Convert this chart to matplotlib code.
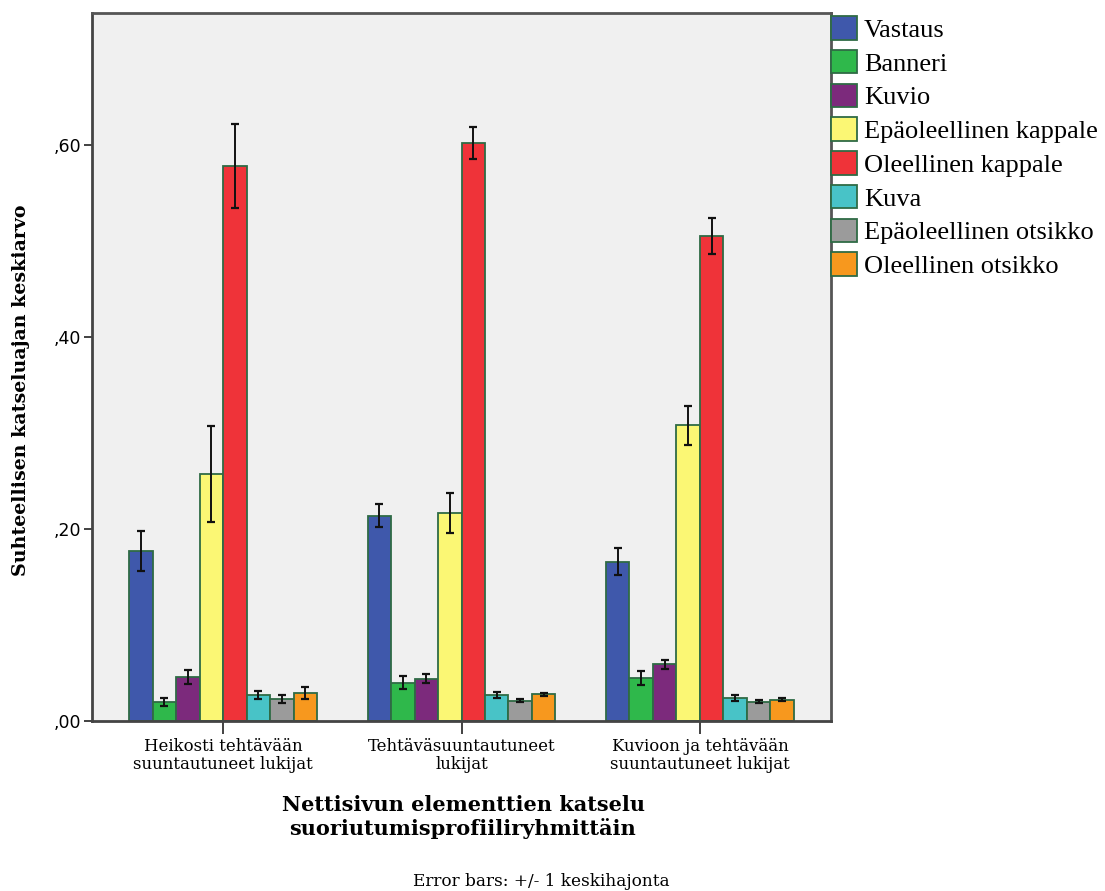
import matplotlib
matplotlib.use("Agg")
import matplotlib.pyplot as plt
import numpy as np
from matplotlib.patches import Patch

groups = ["Heikosti tehtävään\nsuuntautuneet lukijat",
          "Tehtäväsuuntautuneet\nlukijat",
          "Kuvioon ja tehtävään\nsuuntautuneet lukijat"]
series = ["Vastaus", "Banneri", "Kuvio", "Epäoleellinen kappale",
          "Oleellinen kappale", "Kuva", "Epäoleellinen otsikko", "Oleellinen otsikko"]
colors = ["#3f58ab", "#2fb84b", "#7c2a7c", "#fbf774", "#ef3339",
          "#48c3c7", "#9b9b9b", "#f7981e"]

# means per series: [group1, group2, group3]
vastaus = [0.177, 0.214, 0.166]
banneri = [0.020, 0.040, 0.045]
kuvio = [0.046, 0.044, 0.059]
epa_kappale = [0.257, 0.217, 0.308]
ole_kappale = [0.578, 0.602, 0.505]
kuva = [0.027, 0.027, 0.024]
epa_otsikko = [0.023, 0.021, 0.020]
ole_otsikko = [0.029, 0.028, 0.022]

# +/- 1 SD
vastaus_sd = [0.021, 0.012, 0.014]
banneri_sd = [0.004, 0.0065, 0.0075]
kuvio_sd = [0.0075, 0.0046, 0.005]
epa_kappale_sd = [0.050, 0.021, 0.020]
ole_kappale_sd = [0.044, 0.017, 0.019]
kuva_sd = [0.004, 0.003, 0.003]
epa_otsikko_sd = [0.004, 0.0015, 0.0015]
ole_otsikko_sd = [0.0065, 0.0015, 0.0015]

means = [vastaus, banneri, kuvio, epa_kappale, ole_kappale, kuva, epa_otsikko, ole_otsikko]
sds = [vastaus_sd, banneri_sd, kuvio_sd, epa_kappale_sd, ole_kappale_sd, kuva_sd,
       epa_otsikko_sd, ole_otsikko_sd]

times = ["Liberation Serif", "DejaVu Serif"]
slab = ["DejaVu Serif"]

fig = plt.figure(figsize=(11.05, 8.91), dpi=100)
fig.patch.set_facecolor("white")
W, H = 1105, 891
ax = fig.add_axes([92 / W, 1 - 721 / H, (831 - 92) / W, (721 - 13) / H])
ax.set_facecolor("#f0f0f0")

x = np.arange(len(groups))
n = len(series)
bw = 0.0985
edge = "#2f6b45"
for i, (m, s, c) in enumerate(zip(means, sds, colors)):
    pos = x + (i - (n - 1) / 2) * bw
    ax.bar(pos, m, width=bw, color=c, edgecolor=edge, linewidth=1.3, zorder=2)
    ax.errorbar(pos, m, yerr=s, fmt="none", ecolor="#111111", elinewidth=1.4,
                capsize=3, capthick=1.6, zorder=3)

ax.set_xlim(-0.55, 2.55)
ax.set_ylim(0, 0.7375)
ax.set_yticks([0, 0.2, 0.4, 0.6])
ax.set_yticklabels([",00", ",20", ",40", ",60"], family=["DejaVu Sans"], fontsize=12.5)
ax.set_xticks(x)
ax.set_xticklabels(groups, family=slab, fontsize=11.9, linespacing=1.1)
ax.tick_params(axis="y", length=6, width=1.3, color="#333333", pad=2)
ax.tick_params(axis="x", length=9, width=1.3, color="#333333", pad=3)
for sp in ax.spines.values():
    sp.set_color("#555555")
    sp.set_linewidth(2)
ax.spines["left"].set_color("#444444")
ax.spines["bottom"].set_color("#444444")

ax.set_ylabel("Suhteellisen katseluajan keskiarvo", family=slab, fontsize=13.7,
              fontweight="bold")
ax.yaxis.set_label_coords((30 - 92) / 739, (721 - 390) / 708)
fig.text(463 / W, 1 - 817 / H, "Nettisivun elementtien katselu\nsuoriutumisprofiiliryhmittäin",
         ha="center", va="center", family=slab, fontsize=15, fontweight="bold",
         linespacing=1.15)
fig.text(541 / W, 1 - 881 / H, "Error bars: +/- 1 keskihajonta", ha="center", va="center",
         family=slab, fontsize=12.2)

handles = [Patch(facecolor=c, edgecolor=edge, linewidth=1.3) for c in colors]
fig.legend(handles, series, loc="upper left", bbox_to_anchor=(831 / W, 1 - 16 / H),
           frameon=False, prop={"family": times, "size": 19},
           handlelength=1.0, handleheight=1.0, handletextpad=0.25,
           labelspacing=0.3, borderaxespad=0, borderpad=0)

fig.savefig("out.png", dpi=100)
